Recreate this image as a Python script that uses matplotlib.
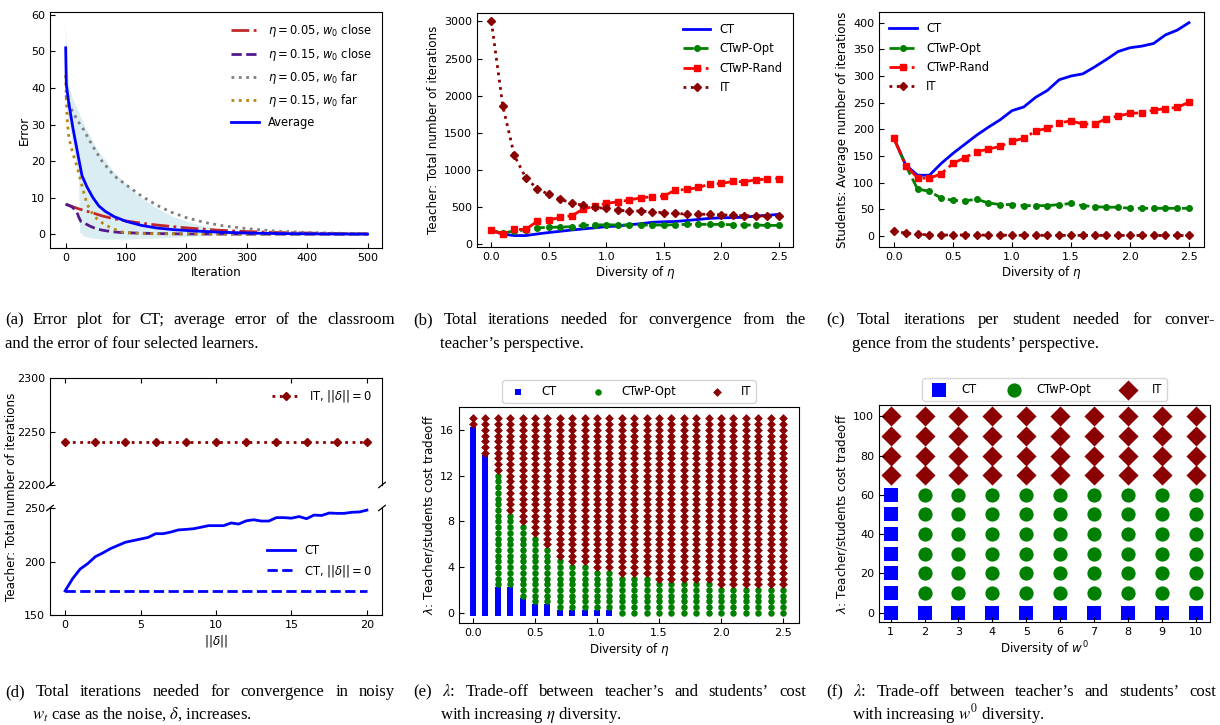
import numpy as np
import matplotlib
matplotlib.use("Agg")
import matplotlib.pyplot as plt

W, H = 1220, 725

# ---------------- data ----------------
# (a) error curves
avg_x = [0, 1, 5, 12, 20, 27, 35, 45, 55, 65, 80, 100, 125, 150, 180, 220, 260, 300, 350, 400, 450, 500]
avg_y = [51, 41, 36, 29, 22, 16, 13, 10, 7.7, 6.3, 4.8, 3.5, 2.4, 1.7, 1.2, 0.8, 0.5, 0.3, 0.15, 0.08, 0.03, 0.0]
band_hi_x = [0, 2.7, 5, 7.7, 12, 20, 28, 40, 55, 67, 80, 95, 117, 135, 150, 178, 200, 222, 260, 300, 350, 400, 500]
band_hi_y = [58.4, 46.7, 42.5, 39.5, 37, 34, 31, 27, 22.5, 20, 17, 14.5, 11, 8.8, 7.2, 4.7, 3.5, 2.4, 1.2, 0.6, 0.25, 0.1, 0]
band_lo_x = [0, 2, 12, 22, 24, 30, 40, 60, 100, 150, 200, 250, 300, 400, 500]
band_lo_y = [42, 34, 25, 15.7, 0.5, -0.6, -1.1, -1.5, -1.5, -1.2, -0.8, -0.4, -0.2, 0, 0]
close05_x = [0, 10, 20, 30, 45, 60, 80, 100, 125, 150, 175, 200, 250, 300, 350, 400, 450, 500]
close05_y = [8.2, 7.6, 7.0, 6.5, 5.8, 5.0, 4.2, 3.6, 3.0, 2.5, 2.1, 1.7, 1.1, 0.7, 0.45, 0.3, 0.15, 0.1]
close15_x = [0, 10, 18, 22, 25, 30, 40, 50, 60, 75, 90, 115, 150, 200, 300, 500]
close15_y = [8.2, 7.5, 6.3, 4.5, 3.5, 3.1, 2.2, 1.5, 1.1, 0.7, 0.45, 0.3, 0.15, 0.05, 0, 0]
far05_x = [0, 10, 20, 30, 45, 60, 80, 100, 125, 150, 175, 200, 230, 260, 300, 350, 400, 450, 500]
far05_y = [38, 34, 31, 28.5, 24, 20, 16, 13.5, 10.5, 8, 6, 4.5, 3.2, 2.3, 1.5, 0.8, 0.45, 0.25, 0.15]
far15_x = [0, 1, 3, 5.5, 12, 19, 26, 29, 34, 40, 51, 62, 76, 95, 120, 150, 200, 300, 500]
far15_y = [43.5, 37, 30, 26.2, 22, 18.4, 13.9, 12, 9, 6.6, 4.3, 2.9, 1.6, 0.5, 0.2, 0.1, 0.05, 0, 0]

# (b), (c) diversity of eta
eta_vals = [0.0, 0.1, 0.2, 0.3, 0.4, 0.5, 0.6, 0.7, 0.8, 0.9, 1.0, 1.1, 1.2,
            1.3, 1.4, 1.5, 1.6, 1.7, 1.8, 1.9, 2.0, 2.1, 2.2, 2.3, 2.4, 2.5]
ct_iters = [183, 133, 114, 114, 136, 155, 172, 189, 204, 218, 235, 242, 260,
            273, 293, 300, 304, 317, 331, 346, 353, 356, 361, 377, 386, 400]
teach_opt = [188, 143, 179, 188, 220, 224, 229, 233, 251, 256, 260, 256, 256,
             256, 256, 256, 260, 265, 265, 265, 265, 260, 256, 256, 251, 251]
teach_rand = [188, 130, 197, 197, 309, 323, 359, 381, 471, 511, 547, 569, 592,
              623, 637, 646, 726, 735, 762, 807, 816, 843, 839, 865, 874, 883]
teach_it = [3000, 1856, 1193, 892, 744, 668, 601, 556, 520, 493, 480, 453, 448,
            444, 435, 421, 412, 404, 404, 399, 395, 386, 381, 381, 377, 372]
stud_opt = [183, 132, 88, 84, 71, 67, 66, 69, 62, 59, 59, 57, 57,
            57, 59, 61, 57, 55, 54, 54, 52, 52, 52, 52, 52, 52]
stud_rand = [183, 132, 109, 108, 117, 136, 147, 158, 163, 168, 178, 183, 197,
             202, 212, 216, 210, 210, 220, 225, 230, 231, 236, 239, 241, 251]
stud_it = [10, 5, 3, 2.5, 2, 2, 2, 1.8, 1.8, 1.6, 1.5, 1.5, 1.4,
           1.4, 1.3, 1.3, 1.2, 1.2, 1.2, 1.1, 1.1, 1.1, 1.0, 1.0, 1.0, 1.0]

# (d) noisy w_t
delta_vals = [0, 0.5, 1, 1.5, 2, 2.5, 3, 3.5, 4, 4.5, 5, 5.5, 6, 6.5, 7, 7.5, 8, 8.5, 9, 9.5, 10,
              10.5, 11, 11.5, 12, 12.5, 13, 13.5, 14, 14.5, 15, 15.5, 16, 16.5, 17, 17.5, 18,
              18.5, 19, 19.5, 20]
ct_noisy = [172.5, 184, 193, 198, 204.5, 208, 212, 215, 218, 219.5, 221, 222.5, 226, 226,
            227.5, 229.5, 230, 230.6, 232, 233.5, 233.5, 233.5, 236, 235, 238, 239, 237.8,
            237.8, 241, 241, 240.5, 242, 240, 243.4, 243, 245.3, 245, 245, 246, 246.3, 248]
ct_clean_x = [0, 20]
ct_clean = [172, 172]
it_clean_x = [0, 2, 4, 6, 8, 10, 12, 14, 16, 18, 20]
it_clean = [2240, 2240, 2240, 2240, 2240, 2240, 2240, 2240, 2240, 2240, 2240]

# (e) lambda vs eta diversity: highest lambda won by CT / by CTwP-Opt (else IT)
lam_e = [0, 0.5, 1, 1.5, 2, 2.5, 3, 3.5, 4, 4.5, 5, 5.5, 6, 6.5, 7, 7.5, 8, 8.5, 9, 9.5,
         10, 10.5, 11, 11.5, 12, 12.5, 13, 13.5, 14, 14.5, 15, 15.5, 16, 16.5, 17]
ct_top_e = [16.0, 13.5, 2.0, 2.0, 1.0, 0.5, 0.5, 0, 0, 0, 0, 0, -1,
            -1, -1, -1, -1, -1, -1, -1, -1, -1, -1, -1, -1, -1]
opt_top_e = [16.0, 13.5, 12.0, 8.5, 7.5, 6.5, 5.5, 4.5, 4.0, 4.0, 3.5, 3.5, 3.0,
             3.0, 3.0, 2.5, 2.5, 2.5, 2.5, 2.5, 2.0, 2.0, 2.0, 2.0, 2.0, 2.0]

# (f) lambda vs w0 diversity
w0_vals = [1, 2, 3, 4, 5, 6, 7, 8, 9, 10]
lam_f = [0, 10, 20, 30, 40, 50, 60, 70, 80, 90, 100]
ct_top_f = [60, 0, 0, 0, 0, 0, 0, 0, 0, 0]
opt_top_f = [60, 60, 60, 60, 60, 60, 60, 60, 60, 60]

# captions: (x_left, x_right or None, baseline y, text)
captions = [
    (5, 395, 324, '(a) Error plot for CT; average error of the classroom'),
    (5, None, 348, 'and the error of four selected learners.'),
    (413, 806, 324, '(b) Total iterations needed for convergence from the'),
    (440, None, 348, 'teacher\u2019s perspective.'),
    (826, 1215, 324, '(c) Total iterations per student needed for conver-'),
    (852, None, 348, 'gence from the students\u2019 perspective.'),
    (5, 395, 696, '(d) Total iterations needed for convergence in noisy'),
    (32, None, 719, r'$w_t$ case as the noise, $\delta$, increases.'),
    (413, 806, 696, '(e) $\\lambda$: Trade-off between teacher\u2019s and students\u2019 cost'),
    (440, None, 719, r'with increasing $\eta$ diversity.'),
    (826, 1216, 696, '(f) $\\lambda$: Trade-off between teacher\u2019s and students\u2019 cost'),
    (852, None, 719, r'with increasing $w^0$ diversity.'),
]

# ---------------- style ----------------
plt.rcParams['font.family'] = ['DejaVu Sans']
plt.rcParams['mathtext.fontset'] = 'dejavusans'
TICK = 8
LAB = 8.6
LEG = 8.3
BLUE, GREEN, RED, DRED = 'blue', 'green', 'red', '#8b0000'

fig = plt.figure(figsize=(W / 100, H / 100), dpi=100)


def rect(l, t, r, b):
    return [l / W, 1 - b / H, (r - l) / W, (b - t) / H]


def style(ax):
    ax.tick_params(direction='in', labelsize=TICK, length=3.5, width=0.8)


# ---- (a) ----
ax = fig.add_axes(rect(50, 12, 382, 248))
style(ax)
ax.fill(band_hi_x + band_lo_x[::-1], band_hi_y + band_lo_y[::-1],
        color='lightblue', alpha=0.45, lw=0)
ax.plot(close05_x, close05_y, color='#c0282a', ls='-.', lw=2, label=r'$\eta = 0.05$, $w_0$ close')
ax.plot(close15_x, close15_y, color='#541a8b', ls='--', lw=2, label=r'$\eta = 0.15$, $w_0$ close')
ax.plot(far05_x, far05_y, color='gray', ls=':', lw=2, label=r'$\eta = 0.05$, $w_0$ far')
ax.plot(far15_x, far15_y, color='#b8860b', ls=':', lw=2, label=r'$\eta = 0.15$, $w_0$ far')
ax.plot(avg_x, avg_y, color=BLUE, lw=2, label='Average')
ax.set_xlim(-26, 524)
ax.set_ylim(-3.8, 60.8)
ax.set_xticks([0, 100, 200, 300, 400, 500])
ax.set_yticks([0, 10, 20, 30, 40, 50, 60])
ax.set_xlabel('Iteration', fontsize=LAB, labelpad=2)
ax.set_ylabel('Error', fontsize=LAB, labelpad=0)
ax.legend(loc='upper right', frameon=False, fontsize=LEG, handlelength=2.4,
          labelspacing=0.55)

# ---- (b) ----
ax = fig.add_axes(rect(477, 12.5, 793, 246.7))
style(ax)
ax.plot(eta_vals, ct_iters, color=BLUE, lw=2, label='CT')
ax.plot(eta_vals, teach_opt, color=GREEN, ls='--', lw=2, marker='o', ms=4, label='CTwP-Opt')
ax.plot(eta_vals, teach_rand, color=RED, ls='-.', lw=2, marker='s', ms=4.5, label='CTwP-Rand')
ax.plot(eta_vals, teach_it, color=DRED, ls=':', lw=2, marker='D', ms=4.5, label='IT')
ax.set_xlim(-0.125, 2.625)
ax.set_ylim(-36, 3120)
ax.set_xticks([0.0, 0.5, 1.0, 1.5, 2.0, 2.5])
ax.set_yticks([0, 500, 1000, 1500, 2000, 2500, 3000])
ax.set_xlabel(r'Diversity of $\eta$', fontsize=LAB, labelpad=2)
ax.set_ylabel('Teacher: Total number of iterations', fontsize=LAB, labelpad=3)
ax.legend(loc='upper right', frameon=False, fontsize=LEG, handlelength=2.4,
          labelspacing=0.55)

# ---- (c) ----
ax = fig.add_axes(rect(879, 12, 1204, 246.7))
style(ax)
ax.plot(eta_vals, ct_iters, color=BLUE, lw=2, label='CT')
ax.plot(eta_vals, stud_opt, color=GREEN, ls='--', lw=2, marker='o', ms=4, label='CTwP-Opt')
ax.plot(eta_vals, stud_rand, color=RED, ls='-.', lw=2, marker='s', ms=4.5, label='CTwP-Rand')
ax.plot(eta_vals, stud_it, color=DRED, ls=':', lw=2, marker='D', ms=4.5, label='IT')
ax.set_xlim(-0.127, 2.627)
ax.set_ylim(-20, 420)
ax.set_xticks([0.0, 0.5, 1.0, 1.5, 2.0, 2.5])
ax.set_yticks([0, 50, 100, 150, 200, 250, 300, 350, 400])
ax.set_xlabel(r'Diversity of $\eta$', fontsize=LAB, labelpad=2)
ax.set_ylabel('Students: Average number of iterations', fontsize=LAB, labelpad=3)
ax.legend(loc='upper left', frameon=False, fontsize=LEG, handlelength=2.4,
          labelspacing=0.55)

# ---- (d) broken axis ----
axt = fig.add_axes(rect(50, 378, 382, 485))
axb = fig.add_axes(rect(50, 508, 382, 615))
for a in (axt, axb):
    style(a)
    a.set_xlim(-1, 21)
    a.set_xticks([0, 5, 10, 15, 20])
axt.plot(it_clean_x, it_clean, color=DRED, ls=':', lw=2, marker='D', ms=4.5,
         label=r'IT, $||\delta|| = 0$')
axt.set_ylim(2200, 2300)
axt.set_yticks([2200, 2250, 2300])
axt.spines['bottom'].set_visible(False)
axt.xaxis.tick_top()
axt.tick_params(labeltop=False)
axt.legend(loc='upper right', frameon=False, fontsize=LEG, handlelength=2.4)
axb.plot(delta_vals, ct_noisy, color=BLUE, lw=2, label='CT')
axb.plot(ct_clean_x, ct_clean, color=BLUE, ls='--', lw=2, label=r'CT, $||\delta|| = 0$')
axb.set_ylim(150, 250)
axb.set_yticks([150, 200, 250])
axb.spines['top'].set_visible(False)
axb.xaxis.tick_bottom()
axb.set_xlabel(r'$||\delta||$', fontsize=LAB, labelpad=2)
axb.legend(loc='center right', frameon=False, fontsize=LEG, handlelength=2.4)
dx, dy = 0.01, 0.025
kw = dict(transform=axt.transAxes, color='k', clip_on=False, lw=0.9)
axt.plot((-dx, dx), (-dy, dy), **kw)
axt.plot((1 - dx, 1 + dx), (-dy, dy), **kw)
kw.update(transform=axb.transAxes)
axb.plot((-dx, dx), (1 - dy, 1 + dy), **kw)
axb.plot((1 - dx, 1 + dx), (1 - dy, 1 + dy), **kw)
fig.text(12 / W, 1 - 496.5 / H, 'Teacher: Total number of iterations', rotation=90,
         ha='center', va='center', fontsize=LAB)

# ---- (e) ----
ax = fig.add_axes(rect(459, 407, 799, 623))
style(ax)
cx, cy, ox, oy, ix, iy = [], [], [], [], [], []
for e, ct_t, op_t in zip(eta_vals, ct_top_e, opt_top_e):
    for lam in lam_e:
        if lam <= ct_t:
            cx.append(e); cy.append(lam)
        elif lam <= op_t:
            ox.append(e); oy.append(lam)
        else:
            ix.append(e); iy.append(lam)
ax.scatter(cx, cy, marker='s', s=22, color=BLUE, lw=0, label='CT')
ax.scatter(ox, oy, marker='o', s=22, color=GREEN, lw=0, label='CTwP-Opt')
ax.scatter(ix, iy, marker='D', s=20, color=DRED, lw=0, label='IT')
ax.set_xlim(-0.113, 2.629)
ax.set_ylim(-0.88, 18.0)
ax.set_xticks([0.0, 0.5, 1.0, 1.5, 2.0, 2.5])
ax.set_yticks([0, 4, 8, 12, 16])
ax.set_xlabel(r'Diversity of $\eta$', fontsize=LAB, labelpad=2)
ax.set_ylabel(r'$\lambda$: Teacher/students cost tradeoff', fontsize=LAB, labelpad=3)
ax.legend(loc='lower center', bbox_to_anchor=(0.5, 1.01), ncol=3, fontsize=LEG,
          scatterpoints=1, columnspacing=2.6, handletextpad=1.0, borderaxespad=0.2)

# ---- (f) ----
ax = fig.add_axes(rect(879, 405, 1210, 622))
style(ax)
cx, cy, ox, oy, ix, iy = [], [], [], [], [], []
for w, ct_t, op_t in zip(w0_vals, ct_top_f, opt_top_f):
    for lam in lam_f:
        if lam <= ct_t:
            cx.append(w); cy.append(lam)
        elif lam <= op_t:
            ox.append(w); oy.append(lam)
        else:
            ix.append(w); iy.append(lam)
ax.scatter(cx, cy, marker='s', s=105, color=BLUE, lw=0, label='CT')
ax.scatter(ox, oy, marker='o', s=105, color=GREEN, lw=0, label='CTwP-Opt')
ax.scatter(ix, iy, marker='D', s=105, color=DRED, lw=0, label='IT')
ax.set_xlim(0.655, 10.42)
ax.set_ylim(-4.8, 105.8)
ax.set_xticks(w0_vals)
ax.set_yticks([0, 20, 40, 60, 80, 100])
ax.set_xlabel(r'Diversity of $w^0$', fontsize=LAB, labelpad=2)
ax.set_ylabel(r'$\lambda$: Teacher/students cost tradeoff', fontsize=LAB, labelpad=3)
ax.legend(loc='lower center', bbox_to_anchor=(0.5, 1.01), ncol=3, fontsize=LEG,
          scatterpoints=1, columnspacing=2.2, handletextpad=1.0, borderaxespad=0.2)

# ---------------- captions ----------------
CAP = dict(fontsize=12, family='Liberation Serif', math_fontfamily='stix',
           ha='left', va='baseline')
renderer = fig.canvas.get_renderer()
for x0, x1, y, s in captions:
    if x1 is None:
        fig.text(x0 / W, 1 - y / H, s, **CAP)
        continue
    # justified line: distribute the words between x0 and x1
    words = s.split(' ')
    texts = [fig.text(0, 1 - y / H, wd, **CAP) for wd in words]
    widths = [t.get_window_extent(renderer).width for t in texts]
    gap = (x1 - x0 - sum(widths)) / (len(words) - 1)
    xc = x0
    for t, wdt in zip(texts, widths):
        t.set_x(xc / W)
        xc += wdt + gap

fig.savefig('out.png', dpi=100)
